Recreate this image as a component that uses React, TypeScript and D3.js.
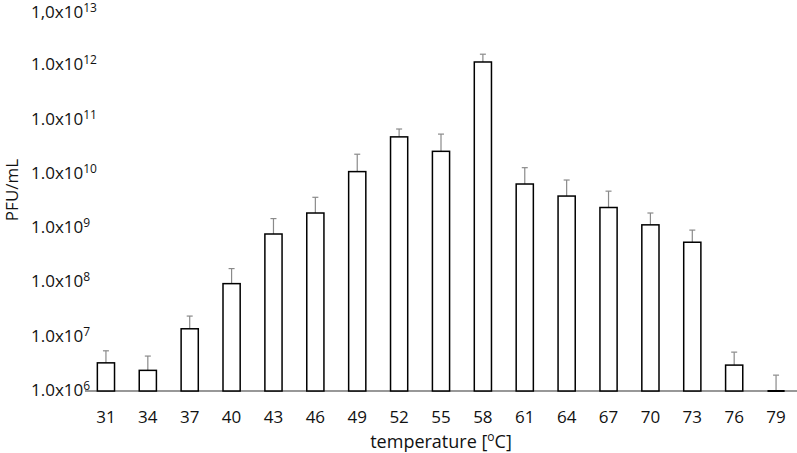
import React from "react";
import * as d3 from "d3";

const categories = ["31", "34", "37", "40", "43", "46", "49", "52", "55", "58", "61", "64", "67", "70", "73", "76", "79"];
const values = [3.3e6, 2.4e6, 1.4e7, 9.5e7, 7.8e8, 1.9e9, 1.1e10, 4.8e10, 2.6e10, 1.15e12, 6.5e9, 3.9e9, 2.4e9, 1.15e9, 5.5e8, 3.0e6, 1.0e6];
const errorTops = [5.5e6, 4.4e6, 2.4e7, 1.8e8, 1.5e9, 3.7e9, 2.3e10, 6.7e10, 5.4e10, 1.6e12, 1.3e10, 7.7e9, 4.8e9, 1.9e9, 9.2e8, 5.2e6, 1.96e6];
const tickExponents = [6, 7, 8, 9, 10, 11, 12, 13];
const tickPrefixes = ["1.0x10", "1.0x10", "1.0x10", "1.0x10", "1.0x10", "1.0x10", "1.0x10", "1,0x10"];

const W = 797;
const H = 453;
const FONT = "'Open Sans', sans-serif";

export default function App() {
  const x = d3.scaleBand<string>().domain(categories).range([85, 797]).paddingInner(0.59).paddingOuter(0.295);
  const y = d3.scaleLog().domain([1e6, 1e13]).range([391, 11]);
  const bw = x.bandwidth();
  return (
    <svg width={W} height={H} style={{ position: "absolute", left: 0, top: 0, background: "#fff" }}>
      <rect x={0} y={0} width={W} height={H} fill="#fff" />
      {tickExponents.map((e, i) => (
        <text key={e} x={31} y={Math.max(y(Math.pow(10, e)) + 5, 18)} fontFamily={FONT} fontSize={17} fill="#111">
          {tickPrefixes[i]}
          <tspan fontSize={12} dy={-6}>{e}</tspan>
        </text>
      ))}
      <line x1={85} x2={797} y1={y(1e6)} y2={y(1e6)} stroke="#333" strokeWidth={1.2} />
      {categories.map((c, i) => {
        const x0 = x(c) as number;
        const cx = x0 + bw / 2;
        const h = Math.max(0, y(1e6) - y(values[i]));
        return (
          <g key={c}>
            <line x1={cx} x2={cx} y1={y(values[i])} y2={y(errorTops[i])} stroke="#8a8a8a" strokeWidth={1.2} />
            <line x1={cx - 3} x2={cx + 3} y1={y(errorTops[i])} y2={y(errorTops[i])} stroke="#8a8a8a" strokeWidth={1.2} />
            {h > 0 ? (
              <rect x={x0} y={y(values[i])} width={bw} height={h} fill="#fff" stroke="#000" strokeWidth={1.5} />
            ) : (
              <line x1={x0} x2={x0 + bw} y1={y(1e6)} y2={y(1e6)} stroke="#000" strokeWidth={2} />
            )}
            <text x={cx} y={423} textAnchor="middle" fontFamily={FONT} fontSize={17} fill="#111">{c}</text>
          </g>
        );
      })}
      <text x={441} y={448} textAnchor="middle" fontFamily={FONT} fontSize={18} fill="#111">
        temperature [<tspan fontSize={12} dy={-7}>o</tspan><tspan dy={7}>C]</tspan>
      </text>
      <text transform="translate(18,190) rotate(-90)" textAnchor="middle" fontFamily={FONT} fontSize={17} fill="#111">PFU/mL</text>
    </svg>
  );
}
